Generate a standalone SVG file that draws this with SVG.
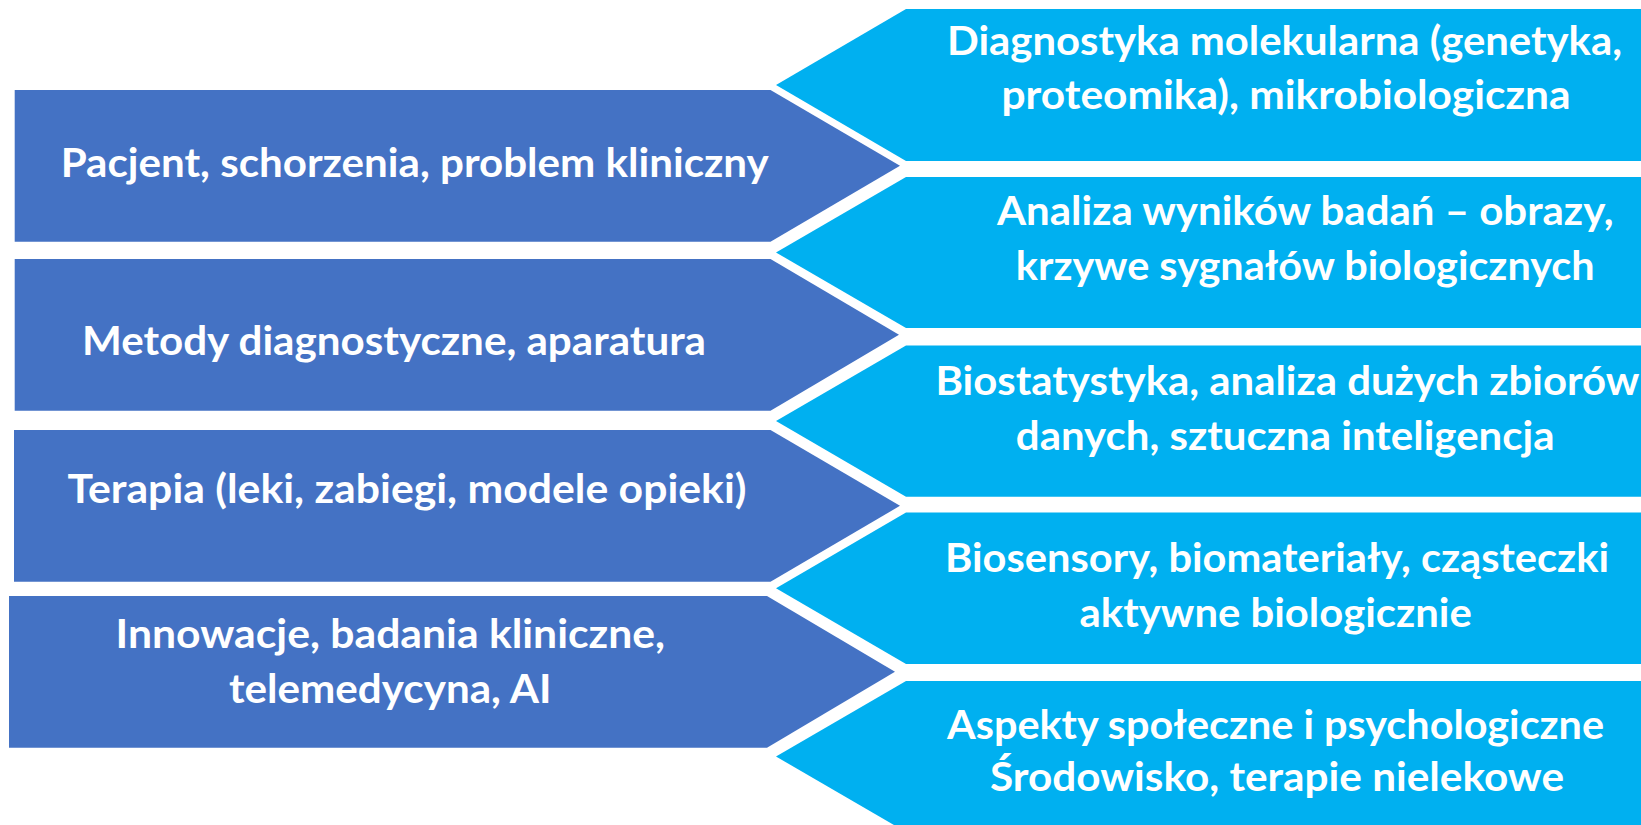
<svg xmlns="http://www.w3.org/2000/svg" width="1641" height="825" viewBox="0 0 1641 825">
<style>
.blue{fill:#4472C4}
.cyan{fill:#00B0F0}
.t{font-family:Lato,"Open Sans","Liberation Sans",sans-serif;font-weight:bold;font-size:40px;fill:#ffffff}
</style>
<rect width="1641" height="825" fill="#ffffff"/>
<g id="left-1"><polygon class="blue" points="14.7,90 770.5,90 900,165.8 770.5,241.7 14.7,241.7"/>
<text class="t" x="60.7" y="177" textLength="708" lengthAdjust="spacingAndGlyphs">Pacjent, schorzenia, problem kliniczny</text></g>
<g id="left-2"><polygon class="blue" points="14.7,259 770.5,259 899,334.8 770.5,410.7 14.7,410.7"/>
<text class="t" x="82" y="355" textLength="624" lengthAdjust="spacingAndGlyphs">Metody diagnostyczne, aparatura</text></g>
<g id="left-3"><polygon class="blue" points="14,430 770.5,430 900,505.8 770.5,581.7 14,581.7"/>
<text class="t" x="67.5" y="502.7" textLength="679" lengthAdjust="spacingAndGlyphs">Terapia (leki, zabiegi, modele opieki)</text></g>
<g id="left-4"><polygon class="blue" points="9,596 767,596 895,671.8 767,747.7 9,747.7"/>
<text class="t" x="115.6" y="648" textLength="549.4" lengthAdjust="spacingAndGlyphs">Innowacje, badania kliniczne,</text>
<text class="t" x="229" y="702.7" textLength="322.6" lengthAdjust="spacingAndGlyphs">telemedycyna, AI</text></g>
<g id="right-1"><polygon class="cyan" points="906,9 1641,9 1641,161 906,161 776,85"/>
<text class="t" x="947" y="55" textLength="675" lengthAdjust="spacingAndGlyphs">Diagnostyka molekularna (genetyka,</text>
<text class="t" x="1001.5" y="108.5" textLength="569" lengthAdjust="spacingAndGlyphs">proteomika), mikrobiologiczna</text></g>
<g id="right-2"><polygon class="cyan" points="906,177 1641,177 1641,328 906,328 776,252.5"/>
<text class="t" x="997" y="225" textLength="616.6" lengthAdjust="spacingAndGlyphs">Analiza wyników badań – obrazy,</text>
<text class="t" x="1015.8" y="280" textLength="578.9" lengthAdjust="spacingAndGlyphs">krzywe sygnałów biologicznych</text></g>
<g id="right-3"><polygon class="cyan" points="906,345.5 1641,345.5 1641,496.7 906,496.7 776,421"/>
<text class="t" x="935.4" y="395" textLength="704" lengthAdjust="spacingAndGlyphs">Biostatystyka, analiza dużych zbiorów</text>
<text class="t" x="1015.8" y="450" textLength="538.7" lengthAdjust="spacingAndGlyphs">danych, sztuczna inteligencja</text></g>
<g id="right-4"><polygon class="cyan" points="906,512.5 1641,512.5 1641,664 906,664 776,588.2"/>
<text class="t" x="945" y="571.7" textLength="664" lengthAdjust="spacingAndGlyphs">Biosensory, biomateriały, cząsteczki</text>
<text class="t" x="1079.6" y="626.7" textLength="392.2" lengthAdjust="spacingAndGlyphs">aktywne biologicznie</text></g>
<g id="right-5"><polygon class="cyan" points="906,681 1641,681 1641,832 906,832 776,756.5"/>
<text class="t" x="947" y="739" textLength="657" lengthAdjust="spacingAndGlyphs">Aspekty społeczne i psychologiczne</text>
<text class="t" x="990" y="791" textLength="574" lengthAdjust="spacingAndGlyphs">Środowisko, terapie nielekowe</text></g>
<g id="connectors"></g>
</svg>
